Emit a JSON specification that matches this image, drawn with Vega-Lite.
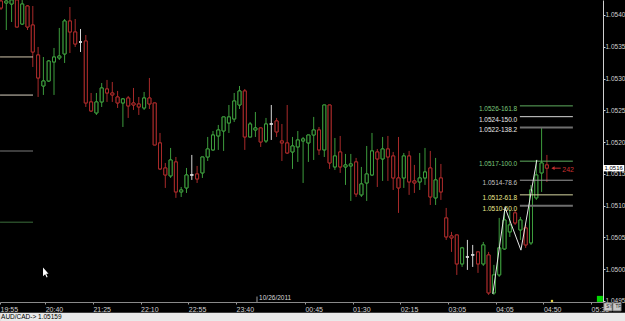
{
  "$schema": "https://vega.github.io/schema/vega-lite/v6.json",
  "background": "#000000",
  "autosize": {"type": "none"},
  "padding": {"left": 0, "top": 0, "right": 22, "bottom": 19},
  "width": 603,
  "height": 302,
  "config": {"view": {"stroke": null}, "axis": {"labelOverlap": false, "labelFlush": false, "grid": false}},
  "datasets": {
    "candles": [
      {"i":0,"o":1.054220,"h":1.054236,"l":1.054079,"c":1.054110},
      {"i":1,"o":1.054189,"h":1.054236,"l":1.053764,"c":1.054220},
      {"i":2,"o":1.054173,"h":1.054236,"l":1.053890,"c":1.054236},
      {"i":3,"o":1.054236,"h":1.054236,"l":1.053811,"c":1.053811},
      {"i":4,"o":1.053858,"h":1.054236,"l":1.053843,"c":1.054173},
      {"i":5,"o":1.054142,"h":1.054157,"l":1.053764,"c":1.053811},
      {"i":6,"o":1.053843,"h":1.054142,"l":1.053182,"c":1.053418},
      {"i":7,"o":1.053371,"h":1.053497,"l":1.052710,"c":1.053009},
      {"i":8,"o":1.052883,"h":1.053339,"l":1.052742,"c":1.052962},
      {"i":9,"o":1.052962,"h":1.053292,"l":1.052946,"c":1.053276},
      {"i":10,"o":1.053261,"h":1.053481,"l":1.052742,"c":1.053339},
      {"i":11,"o":1.053324,"h":1.053796,"l":1.053292,"c":1.053355},
      {"i":12,"o":1.053387,"h":1.053937,"l":1.053245,"c":1.053906},
      {"i":13,"o":1.053906,"h":1.054126,"l":1.053402,"c":1.053733},
      {"i":14,"o":1.053733,"h":1.053937,"l":1.053497,"c":1.053544},
      {"i":15,"o":1.053575,"h":1.053780,"l":1.053418,"c":1.053575},
      {"i":16,"o":1.053591,"h":1.053685,"l":1.052553,"c":1.052616},
      {"i":17,"o":1.052632,"h":1.052773,"l":1.052474,"c":1.052490},
      {"i":18,"o":1.052459,"h":1.052773,"l":1.052427,"c":1.052632},
      {"i":19,"o":1.052632,"h":1.052930,"l":1.052553,"c":1.052852},
      {"i":20,"o":1.052836,"h":1.052978,"l":1.052632,"c":1.052773},
      {"i":21,"o":1.052773,"h":1.052946,"l":1.052632,"c":1.052742},
      {"i":22,"o":1.052710,"h":1.052805,"l":1.052537,"c":1.052616},
      {"i":23,"o":1.052616,"h":1.052694,"l":1.052238,"c":1.052679},
      {"i":24,"o":1.052694,"h":1.052726,"l":1.052380,"c":1.052569},
      {"i":25,"o":1.052616,"h":1.052852,"l":1.052506,"c":1.052584},
      {"i":26,"o":1.052600,"h":1.052710,"l":1.052427,"c":1.052553},
      {"i":27,"o":1.052537,"h":1.052789,"l":1.052506,"c":1.052694},
      {"i":28,"o":1.052694,"h":1.053009,"l":1.052521,"c":1.052600},
      {"i":29,"o":1.052616,"h":1.052616,"l":1.051955,"c":1.051955},
      {"i":30,"o":1.051987,"h":1.052144,"l":1.051562,"c":1.051578},
      {"i":31,"o":1.051593,"h":1.051672,"l":1.051279,"c":1.051483},
      {"i":32,"o":1.051468,"h":1.051908,"l":1.051436,"c":1.051719},
      {"i":33,"o":1.051688,"h":1.051766,"l":1.051122,"c":1.051216},
      {"i":34,"o":1.051216,"h":1.051294,"l":1.051137,"c":1.051247},
      {"i":35,"o":1.051279,"h":1.051593,"l":1.051200,"c":1.051483},
      {"i":36,"o":1.051483,"h":1.051798,"l":1.051405,"c":1.051483},
      {"i":37,"o":1.051499,"h":1.051625,"l":1.051357,"c":1.051420},
      {"i":38,"o":1.051515,"h":1.051766,"l":1.051436,"c":1.051766},
      {"i":39,"o":1.051766,"h":1.052081,"l":1.051703,"c":1.051892},
      {"i":40,"o":1.051877,"h":1.052175,"l":1.051861,"c":1.052112},
      {"i":41,"o":1.052097,"h":1.052270,"l":1.051877,"c":1.052191},
      {"i":42,"o":1.052175,"h":1.052396,"l":1.051861,"c":1.052396},
      {"i":43,"o":1.052301,"h":1.052584,"l":1.052144,"c":1.052396},
      {"i":44,"o":1.052364,"h":1.052773,"l":1.052317,"c":1.052647},
      {"i":45,"o":1.052584,"h":1.052883,"l":1.052521,"c":1.052805},
      {"i":46,"o":1.052805,"h":1.052836,"l":1.051877,"c":1.052081},
      {"i":47,"o":1.052081,"h":1.052317,"l":1.052081,"c":1.052285},
      {"i":48,"o":1.052191,"h":1.052474,"l":1.052081,"c":1.052223},
      {"i":49,"o":1.052223,"h":1.052223,"l":1.051924,"c":1.052002},
      {"i":50,"o":1.052018,"h":1.052380,"l":1.051987,"c":1.052285},
      {"i":51,"o":1.052285,"h":1.052584,"l":1.052034,"c":1.052285},
      {"i":52,"o":1.052333,"h":1.052380,"l":1.052081,"c":1.052160},
      {"i":53,"o":1.052018,"h":1.052285,"l":1.051703,"c":1.051987},
      {"i":54,"o":1.051987,"h":1.052584,"l":1.051814,"c":1.051829},
      {"i":55,"o":1.051845,"h":1.052081,"l":1.051578,"c":1.051939},
      {"i":56,"o":1.051924,"h":1.052175,"l":1.051688,"c":1.052034},
      {"i":57,"o":1.052018,"h":1.052081,"l":1.051357,"c":1.052050},
      {"i":58,"o":1.051987,"h":1.052112,"l":1.051688,"c":1.052112},
      {"i":59,"o":1.052112,"h":1.052396,"l":1.051719,"c":1.052191},
      {"i":60,"o":1.052191,"h":1.052238,"l":1.051798,"c":1.051877},
      {"i":61,"o":1.051877,"h":1.052584,"l":1.051766,"c":1.052584},
      {"i":62,"o":1.052584,"h":1.052584,"l":1.051578,"c":1.051672},
      {"i":63,"o":1.051609,"h":1.052065,"l":1.051562,"c":1.051782},
      {"i":64,"o":1.051845,"h":1.052097,"l":1.051515,"c":1.051609},
      {"i":65,"o":1.051609,"h":1.051814,"l":1.051326,"c":1.051641},
      {"i":66,"o":1.051625,"h":1.051814,"l":1.051074,"c":1.051656},
      {"i":67,"o":1.051688,"h":1.051751,"l":1.051137,"c":1.051184},
      {"i":68,"o":1.051169,"h":1.051609,"l":1.051137,"c":1.051342},
      {"i":69,"o":1.051357,"h":1.051939,"l":1.051074,"c":1.051499},
      {"i":70,"o":1.051483,"h":1.052144,"l":1.051468,"c":1.051861},
      {"i":71,"o":1.051845,"h":1.051892,"l":1.051294,"c":1.051735},
      {"i":72,"o":1.051735,"h":1.052081,"l":1.051389,"c":1.051892},
      {"i":73,"o":1.051892,"h":1.052097,"l":1.051389,"c":1.051766},
      {"i":74,"o":1.051782,"h":1.051845,"l":1.051247,"c":1.051436},
      {"i":75,"o":1.051436,"h":1.052081,"l":1.050886,"c":1.051279},
      {"i":76,"o":1.051436,"h":1.051829,"l":1.051279,"c":1.051782},
      {"i":77,"o":1.051782,"h":1.051861,"l":1.051169,"c":1.051373},
      {"i":78,"o":1.051389,"h":1.051641,"l":1.051200,"c":1.051357},
      {"i":79,"o":1.051373,"h":1.051829,"l":1.051247,"c":1.051436},
      {"i":80,"o":1.051436,"h":1.051908,"l":1.051326,"c":1.051530},
      {"i":81,"o":1.051593,"h":1.051861,"l":1.051011,"c":1.051137},
      {"i":82,"o":1.051122,"h":1.051751,"l":1.051011,"c":1.051405},
      {"i":83,"o":1.051436,"h":1.051656,"l":1.051090,"c":1.051216},
      {"i":84,"o":1.050807,"h":1.050964,"l":1.050461,"c":1.050508},
      {"i":85,"o":1.050524,"h":1.050587,"l":1.050272,"c":1.050492},
      {"i":86,"o":1.050539,"h":1.050539,"l":1.049910,"c":1.050083},
      {"i":87,"o":1.050083,"h":1.050351,"l":1.050036,"c":1.050335},
      {"i":88,"o":1.050193,"h":1.050461,"l":1.049989,"c":1.050193},
      {"i":89,"o":1.050225,"h":1.050382,"l":1.050036,"c":1.050225},
      {"i":90,"o":1.050272,"h":1.050272,"l":1.049942,"c":1.050083},
      {"i":91,"o":1.050083,"h":1.050429,"l":1.050052,"c":1.050382},
      {"i":92,"o":1.050225,"h":1.050272,"l":1.049596,"c":1.049627},
      {"i":93,"o":1.049627,"h":1.050068,"l":1.049596,"c":1.049910},
      {"i":94,"o":1.049910,"h":1.050807,"l":1.049879,"c":1.050335},
      {"i":95,"o":1.050319,"h":1.050933,"l":1.050304,"c":1.050775},
      {"i":96,"o":1.050587,"h":1.050933,"l":1.050508,"c":1.050697},
      {"i":97,"o":1.050886,"h":1.050933,"l":1.050697,"c":1.050728},
      {"i":98,"o":1.050618,"h":1.050823,"l":1.050461,"c":1.050775},
      {"i":99,"o":1.050650,"h":1.050697,"l":1.050335,"c":1.050382},
      {"i":100,"o":1.050414,"h":1.051326,"l":1.050382,"c":1.051247},
      {"i":101,"o":1.051122,"h":1.051719,"l":1.051090,"c":1.051483},
      {"i":102,"o":1.051515,"h":1.052238,"l":1.051216,"c":1.051672},
      {"i":103,"o":1.051641,"h":1.051798,"l":1.051373,"c":1.051590}
    ],
    "fib": [
      {"lv":"161.8","p":1.05257,"label":"1.0526-161.8"},
      {"lv":"150.0","p":1.05240,"label":"1.0524-150.0"},
      {"lv":"138.2","p":1.05223,"label":"1.0522-138.2"},
      {"lv":"100.0","p":1.05170,"label":"1.0517-100.0"},
      {"lv":"78.6","p":1.05140,"label":"1.0514-78.6"},
      {"lv":"61.8","p":1.05117,"label":"1.0512-61.8"},
      {"lv":"50.0","p":1.05100,"label":"1.0510-50.0"}
    ],
    "left": [
      {"k":"a","p":1.05334},
      {"k":"b","p":1.05274},
      {"k":"c","p":1.05186},
      {"k":"d","p":1.05074}
    ],
    "zig": [
      {"s":1,"i":92.8,"p":1.04961},
      {"s":2,"i":95.1,"p":1.05097},
      {"s":3,"i":98.1,"p":1.05030},
      {"s":4,"i":101.1,"p":1.05172}
    ],
    "buttons": [
      {"b":"SY","x1":113.75,"x2":115.3},
      {"b":"TF","x1":115.45,"x2":117.0}
    ]
  },
  "layer": [
    {
      "data": {"values": [{"status": "AUD/CAD-> 1.05159"}]},
      "layer": [
        {
          "mark": {"type": "rect", "color": "#e9e9e9", "clip": false},
          "encoding": {
            "x": {"datum": -0.18, "type": "quantitative"},
            "x2": {"datum": 118.5},
            "y": {"datum": 1.049316, "type": "quantitative"},
            "y2": {"datum": 1.04915}
          }
        },
        {
          "mark": {"type": "text", "align": "left", "baseline": "middle", "dx": 1, "fontSize": 6.5, "font": "Liberation Sans", "color": "#000000", "clip": false},
          "encoding": {
            "x": {"datum": -0.18, "type": "quantitative"},
            "y": {"datum": 1.04925, "type": "quantitative"},
            "text": {"field": "status"}
          }
        }
      ]
    },
    {
      "data": {"name": "candles"},
      "mark": {"type": "bar", "size": 3, "fill": "#000000", "strokeWidth": 1, "clip": true},
      "encoding": {
        "x": {"field": "i", "type": "quantitative",
          "scale": {"domain": [-0.1887, 113.585], "nice": false, "zero": false, "padding": 0},
          "axis": {"title": null, "grid": false, "orient": "bottom", "tickCount": 20,
            "values": [-0.18, 8.34, 17.34, 26.34, 35.34, 44.34, 57.34, 66.34, 75.34, 84.34, 93.34, 102.34, 111.34],
            "labelExpr": "{'0':'19:55','9':'20:40','18':'21:25','27':'22:10','36':'22:55','45':'23:40','58':'00:45','67':'01:30','76':'02:15','85':'03:05','94':'04:05','103':'04:50','112':'05:35'}[round(datum.value + 0.66)]",
            "labelAlign": "left", "labelBaseline": "top", "labelPadding": 1, "tickSize": 2,
            "tickColor": "#9a9a9a", "domainColor": "#8a8a8a", "labelColor": "#d0d0d0",
            "labelFontSize": 7, "labelFont": "Liberation Sans Narrow, Liberation Sans",
            "labelOverlap": false, "labelFlush": false, "labelBound": false}},
        "y": {"field": "o", "type": "quantitative",
          "scale": {"domain": [1.049484, 1.054236], "nice": false, "zero": false, "padding": 0},
          "axis": {"title": null, "grid": false, "orient": "right", "tickCount": 20,
            "values": [1.0495, 1.05, 1.0505, 1.051, 1.0515, 1.052, 1.0525, 1.053, 1.0535, 1.054],
            "format": ".4f", "tickSize": 2, "labelPadding": 0, "labelFontSize": 6.5,
            "labelFont": "Liberation Sans", "labelColor": "#d0d0d0", "tickColor": "#d0d0d0",
            "domainColor": "#d0d0d0", "labelOverlap": false, "labelFlush": false}},
        "y2": {"field": "c"},
        "stroke": {"condition": [
          {"test": "datum.c > datum.o", "value": "#3d9c3d"},
          {"test": "datum.c < datum.o", "value": "#a82a2a"}], "value": "#d8d8d8"}
      }
    },
    {
      "data": {"name": "candles"},
      "mark": {"type": "rule", "strokeWidth": 1, "clip": true},
      "encoding": {
        "x": {"field": "i", "type": "quantitative"},
        "y": {"field": "h", "type": "quantitative"},
        "y2": {"field": "l"},
        "color": {"condition": [
          {"test": "datum.c > datum.o", "value": "#3d9c3d"},
          {"test": "datum.c < datum.o", "value": "#a82a2a"}], "value": "#d8d8d8"}
      }
    },
    {
      "data": {"name": "candles"},
      "mark": {"type": "bar", "size": 3, "fill": "#000000", "strokeWidth": 1, "clip": true},
      "encoding": {
        "x": {"field": "i", "type": "quantitative"},
        "y": {"field": "o", "type": "quantitative"},
        "y2": {"field": "c"},
        "stroke": {"condition": [
          {"test": "datum.c > datum.o", "value": "#3d9c3d"},
          {"test": "datum.c < datum.o", "value": "#a82a2a"}], "value": "#d8d8d8"}
      }
    },
    {
      "data": {"name": "left"},
      "mark": {"type": "rule", "strokeWidth": 1},
      "encoding": {
        "x": {"datum": -0.18, "type": "quantitative"},
        "x2": {"datum": 6.04},
        "y": {"field": "p", "type": "quantitative"},
        "color": {"field": "k", "type": "nominal", "legend": null,
          "scale": {"domain": ["a","b","c","d"], "range": ["#cfc3aa","#d8d0c0","#7a7a7a","#3c6e3c"]}}
      }
    },
    {
      "data": {"name": "fib"},
      "mark": {"type": "rule"},
      "encoding": {
        "x": {"datum": 97.9, "type": "quantitative"},
        "x2": {"datum": 107.9},
        "y": {"field": "p", "type": "quantitative"},
        "stroke": {"field": "lv", "type": "nominal", "legend": null,
          "scale": {"domain": ["161.8","150.0","138.2","100.0","78.6","61.8","50.0"],
                    "range": ["#5fae5f","#d8d8d8","#6e6e6e","#5fae5f","#9a9a9a","#d6d6a0","#6e6e6e"]}},
        "strokeWidth": {"condition": {"test": "datum.lv == '138.2' || datum.lv == '50.0'", "value": 2}, "value": 1}
      }
    },
    {
      "data": {"name": "fib"},
      "mark": {"type": "text", "align": "right", "baseline": "middle", "dy": 3, "fontSize": 6.5, "font": "Liberation Sans"},
      "encoding": {
        "x": {"datum": 97.4, "type": "quantitative"},
        "y": {"field": "p", "type": "quantitative"},
        "text": {"field": "label"},
        "fill": {"field": "lv", "type": "nominal", "legend": null,
          "scale": {"domain": ["161.8","150.0","138.2","100.0","78.6","61.8","50.0"],
                    "range": ["#7cc87c","#e8e8e8","#e8e8e8","#7cc87c","#c0c0c0","#e8e890","#e8e890"]}}
      }
    },
    {
      "data": {"name": "zig"},
      "mark": {"type": "line", "color": "#e6e6e6", "strokeWidth": 1},
      "encoding": {
        "x": {"field": "i", "type": "quantitative"},
        "y": {"field": "p", "type": "quantitative"},
        "order": {"field": "s"}
      }
    },
    {
      "data": {"values": [{"t": "242"}]},
      "layer": [
        {
          "mark": {"type": "rule", "color": "#c83030", "strokeWidth": 1},
          "encoding": {
            "x": {"datum": 104.2, "type": "quantitative"},
            "x2": {"datum": 105.6},
            "y": {"datum": 1.05159, "type": "quantitative"}
          }
        },
        {
          "mark": {"type": "point", "shape": "triangle-left", "filled": true, "color": "#c83030", "size": 14, "opacity": 1},
          "encoding": {
            "x": {"datum": 104.15, "type": "quantitative"},
            "y": {"datum": 1.05159, "type": "quantitative"}
          }
        },
        {
          "mark": {"type": "text", "align": "left", "baseline": "middle", "dy": 2, "fontSize": 7, "font": "Liberation Sans", "color": "#c83030"},
          "encoding": {
            "x": {"datum": 105.9, "type": "quantitative"},
            "y": {"datum": 1.05159, "type": "quantitative"},
            "text": {"field": "t"}
          }
        }
      ]
    },
    {
      "data": {"values": [{"t": "1.0516"}]},
      "layer": [
        {
          "mark": {"type": "rect", "color": "#ffffff", "clip": false},
          "encoding": {
            "x": {"datum": 113.6, "type": "quantitative"},
            "x2": {"datum": 117.6},
            "y": {"datum": 1.05164, "type": "quantitative"},
            "y2": {"datum": 1.05154}
          }
        },
        {
          "mark": {"type": "text", "align": "center", "baseline": "middle", "fontSize": 6, "font": "Liberation Sans", "color": "#000000"},
          "encoding": {
            "x": {"datum": 115.6, "type": "quantitative"},
            "y": {"datum": 1.05159, "type": "quantitative"},
            "text": {"field": "t"}
          }
        }
      ]
    },
    {
      "data": {"name": "buttons"},
      "layer": [
        {
          "mark": {"type": "rect", "fill": "#c8c8c8", "stroke": "#7a7a7a", "strokeWidth": 0.8, "clip": false},
          "encoding": {
            "x": {"field": "x1", "type": "quantitative"},
            "x2": {"field": "x2"},
            "y": {"datum": 1.04947, "type": "quantitative"},
            "y2": {"datum": 1.049344}
          }
        },
        {
          "mark": {"type": "text", "align": "left", "baseline": "middle", "dx": 2.5, "fontSize": 4.5, "font": "Liberation Sans", "color": "#202020", "clip": false},
          "encoding": {
            "x": {"field": "x1", "type": "quantitative"},
            "y": {"datum": 1.049407, "type": "quantitative"},
            "text": {"field": "b"}
          }
        }
      ]
    },
    {
      "data": {"values": [{"t": "10/26/2011"}]},
      "layer": [
        {
          "mark": {"type": "text", "align": "left", "baseline": "middle", "fontSize": 6.5, "font": "Liberation Sans Narrow, Liberation Sans", "color": "#d8d8d8"},
          "encoding": {
            "x": {"datum": 48.7, "type": "quantitative"},
            "y": {"datum": 1.04955, "type": "quantitative"},
            "text": {"field": "t"}
          }
        },
        {
          "mark": {"type": "rule", "color": "#9a9a9a", "strokeWidth": 1},
          "encoding": {
            "x": {"datum": 48.3, "type": "quantitative"},
            "y": {"datum": 1.04957, "type": "quantitative"},
            "y2": {"datum": 1.049484}
          }
        },
        {
          "mark": {"type": "point", "shape": "square", "filled": true, "color": "#00d800", "size": 36, "opacity": 1},
          "encoding": {
            "x": {"datum": 113.0, "type": "quantitative"},
            "y": {"datum": 1.049533, "type": "quantitative"}
          }
        },
        {
          "mark": {"type": "point", "shape": "square", "filled": true, "color": "#e0d040", "size": 5, "opacity": 1},
          "encoding": {
            "x": {"datum": 103.96, "type": "quantitative"},
            "y": {"datum": 1.0495, "type": "quantitative"}
          }
        },
        {
          "mark": {"type": "point", "shape": "M-0.5,-1 L-0.5,0.75 L-0.08,0.35 L0.22,1 L0.42,0.9 L0.14,0.28 L0.6,0.28 Z", "filled": true, "color": "#ffffff", "size": 100, "opacity": 1},
          "encoding": {
            "x": {"datum": 8.4, "type": "quantitative"},
            "y": {"datum": 1.04995, "type": "quantitative"}
          }
        }
      ]
    }
  ]
}
